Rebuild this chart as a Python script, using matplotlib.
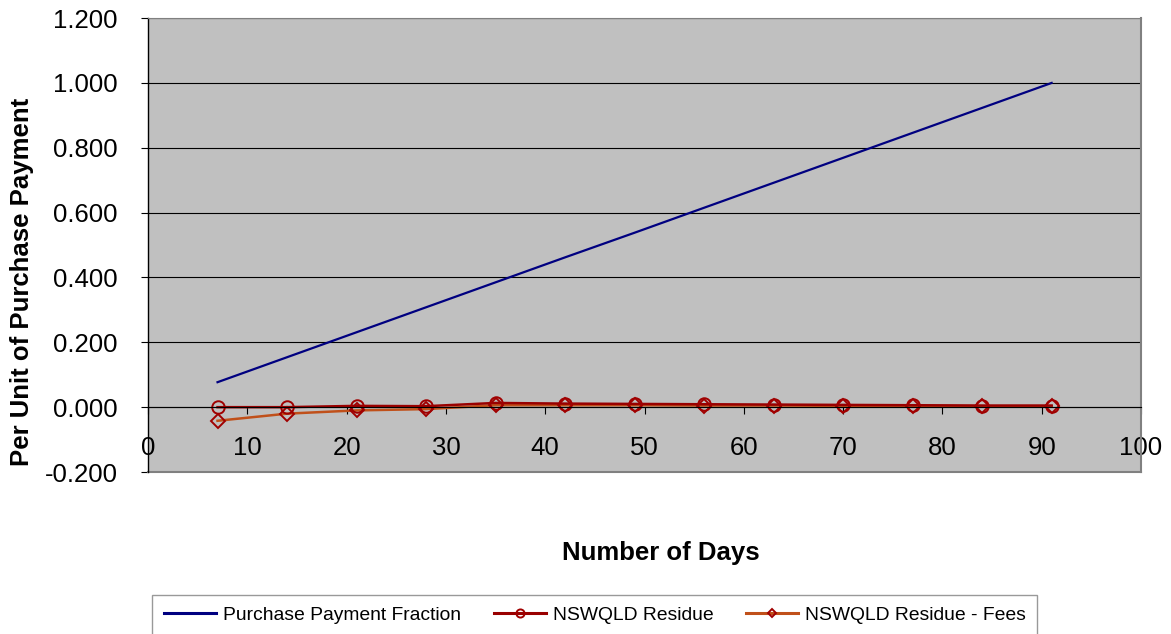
import numpy as np
import matplotlib.pyplot as plt

plt.rcParams['font.family'] = ['Liberation Sans', 'DejaVu Sans']

days = [7, 14, 21, 28, 35, 42, 49, 56, 63, 70, 77, 84, 91]
payment_fraction = [0.077, 0.154, 0.231, 0.308, 0.385, 0.462, 0.538,
                    0.615, 0.692, 0.769, 0.846, 0.923, 1.000]
residue = [0.000, 0.000, 0.004, 0.003, 0.013, 0.011, 0.010,
           0.009, 0.008, 0.007, 0.006, 0.005, 0.005]
residue_fees = [-0.042, -0.020, -0.010, -0.006, 0.006, 0.006, 0.006,
                0.005, 0.005, 0.004, 0.004, 0.003, 0.003]

y_ticks = [-0.2, 0.0, 0.2, 0.4, 0.6, 0.8, 1.0, 1.2]
x_ticks = [0, 10, 20, 30, 40, 50, 60, 70, 80, 90, 100]

fig = plt.figure(figsize=(11.71, 6.34), dpi=100)
ax = fig.add_axes([0.1264, 0.2555, 0.848, 0.716])
ax.set_facecolor('#C0C0C0')

ax.plot(days, payment_fraction, color='#000080', lw=1.6,
        label='Purchase Payment Fraction')
ax.plot(days, residue_fees, color='#C0501A', lw=1.8, marker='D',
        ms=7, mfc='none', mec='#A00000', mew=1.4,
        label='NSWQLD Residue - Fees')
ax.plot(days, residue, color='#990000', lw=1.8, marker='o',
        ms=9, mfc='none', mec='#A00000', mew=1.4,
        label='NSWQLD Residue')

ax.set_xlim(0, 100)
ax.set_ylim(-0.2, 1.2)
ax.set_yticks(y_ticks)
ax.set_yticklabels([f'{v:.3f}' for v in y_ticks])
ax.set_xticks(x_ticks)
ax.set_xticklabels([str(v) for v in x_ticks])

for y in y_ticks[1:]:
    ax.axhline(y, color='black', lw=0.8, zorder=0.5)

ax.spines['bottom'].set_position(('data', 0))
ax.spines['bottom'].set_color('black')
ax.spines['bottom'].set_linewidth(0.8)
ax.spines['left'].set_color('black')
ax.spines['left'].set_linewidth(1.0)
ax.spines['top'].set_color('#808080')
ax.spines['right'].set_color('#808080')
ax.spines['right'].set_linewidth(1.5)
ax.axhline(-0.2, color='#808080', lw=1.5, clip_on=False)

ax.tick_params(axis='x', direction='out', length=5, pad=16,
               labelsize=18.5, color='black')
ax.tick_params(axis='y', direction='out', length=5, pad=17,
               labelsize=18.5, color='black')

fig.text(22 / 1171, 0.555, 'Per Unit of Purchase Payment', fontsize=18.5,
         fontweight='bold', ha='center', va='center', rotation=90)
fig.text(0.5645, 0.128, 'Number of Days', fontsize=18.5,
         fontweight='bold', ha='center', va='center')

handles, labels = ax.get_legend_handles_labels()
order = [0, 2, 1]
leg = fig.legend([handles[i] for i in order], [labels[i] for i in order],
                 loc='upper center', bbox_to_anchor=(0.508, 0.0615),
                 borderaxespad=0.0,
                 ncol=3, fontsize=13.9, frameon=True, fancybox=False,
                 edgecolor='#808080', handlelength=2.7, handletextpad=0.35,
                 columnspacing=1.7, borderpad=0.6, markerscale=0.65)
leg.get_frame().set_linewidth(1.0)
for line in leg.get_lines():
    line.set_linewidth(2.2)

fig.savefig('out.png', dpi=100)
